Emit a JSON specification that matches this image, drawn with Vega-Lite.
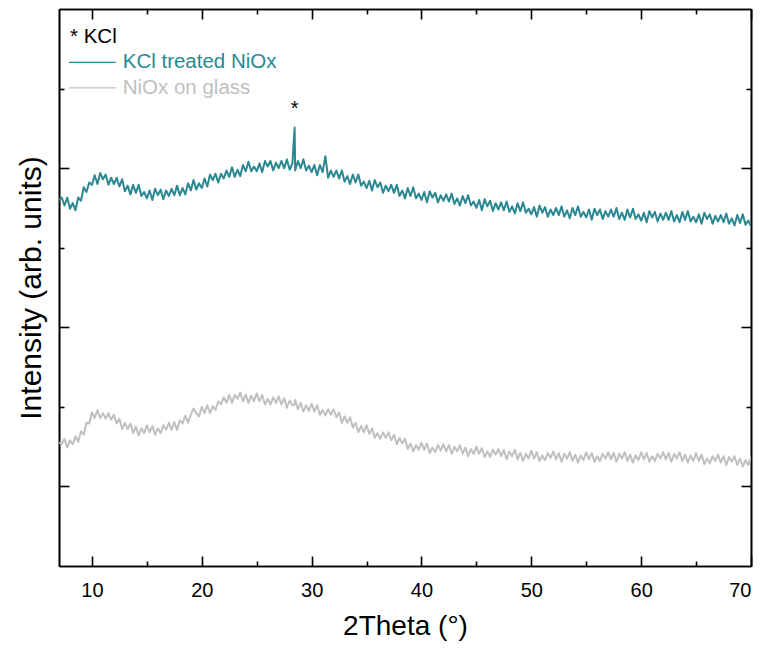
{
"$schema":"https://vega.github.io/schema/vega-lite/v6.json",
"width":692,"height":557,
"autosize":{"type":"none"},
"padding":{"left":59,"top":9,"right":18,"bottom":86},
"background":"white",
"config":{"view":{"stroke":null},"font":"Liberation Sans",
 "axis":{"grid":false,"domainColor":"black","domainWidth":1.6,"tickColor":"black","tickWidth":1.6,"labelFont":"Liberation Sans","titleFont":"Liberation Sans","labelColor":"black","titleColor":"black","titleFontWeight":"normal"}},
"datasets":{
"xrd":[
{"t":7.0,"a":460,"b":155},{"t":7.25,"a":463,"b":153},{"t":7.5,"a":453,"b":160},{"t":7.75,"a":463,"b":149},{"t":8.0,"a":449,"b":158},{"t":8.25,"a":456,"b":153},{"t":8.5,"a":447,"b":163},{"t":8.75,"a":463,"b":156},{"t":9.0,"a":459,"b":169},{"t":9.25,"a":476,"b":165},{"t":9.5,"a":470,"b":180},{"t":9.75,"a":482,"b":179},{"t":10.0,"a":479,"b":193},{"t":10.25,"a":491,"b":186},{"t":10.5,"a":480,"b":196},{"t":10.75,"a":494,"b":186},{"t":11.0,"a":486,"b":192},{"t":11.25,"a":492,"b":185},{"t":11.5,"a":479,"b":192},{"t":11.75,"a":488,"b":184},{"t":12.0,"a":480,"b":190},{"t":12.25,"a":488,"b":179},{"t":12.5,"a":477,"b":185},{"t":12.75,"a":486,"b":172},{"t":13.0,"a":471,"b":180},{"t":13.25,"a":478,"b":172},{"t":13.5,"a":467,"b":179},{"t":13.75,"a":479,"b":167},{"t":14.0,"a":469,"b":175},{"t":14.25,"a":479,"b":164},{"t":14.5,"a":465,"b":173},{"t":14.75,"a":470,"b":167},{"t":15.0,"a":462,"b":177},{"t":15.25,"a":472,"b":168},{"t":15.5,"a":460,"b":176},{"t":15.75,"a":474,"b":165},{"t":16.0,"a":466,"b":173},{"t":16.25,"a":473,"b":167},{"t":16.5,"a":461,"b":177},{"t":16.75,"a":472,"b":171},{"t":17.0,"a":465,"b":180},{"t":17.25,"a":474,"b":171},{"t":17.5,"a":466,"b":181},{"t":17.75,"a":478,"b":171},{"t":18.0,"a":466,"b":183},{"t":18.25,"a":475,"b":179},{"t":18.5,"a":467,"b":189},{"t":18.75,"a":481,"b":180},{"t":19.0,"a":472,"b":190},{"t":19.25,"a":485,"b":198},{"t":19.5,"a":473,"b":192},{"t":19.75,"a":481,"b":188},{"t":20.0,"a":475,"b":200},{"t":20.25,"a":487,"b":192},{"t":20.5,"a":477,"b":202},{"t":20.75,"a":492,"b":192},{"t":21.0,"a":485,"b":201},{"t":21.25,"a":493,"b":196},{"t":21.5,"a":482,"b":207},{"t":21.75,"a":493,"b":203},{"t":22.0,"a":487,"b":212},{"t":22.25,"a":497,"b":205},{"t":22.5,"a":489,"b":215},{"t":22.75,"a":501,"b":205},{"t":23.0,"a":489,"b":215},{"t":23.25,"a":498,"b":210},{"t":23.5,"a":490,"b":218},{"t":23.75,"a":504,"b":207},{"t":24.0,"a":496,"b":215},{"t":24.25,"a":508,"b":205},{"t":24.5,"a":496,"b":214},{"t":24.75,"a":502,"b":207},{"t":25.0,"a":496,"b":217},{"t":25.25,"a":506,"b":207},{"t":25.5,"a":495,"b":215},{"t":25.75,"a":509,"b":203},{"t":26.0,"a":502,"b":210},{"t":26.25,"a":509,"b":203},{"t":26.5,"a":497,"b":212},{"t":26.75,"a":507,"b":205},{"t":27.0,"a":500,"b":213},{"t":27.25,"a":509,"b":203},{"t":27.5,"a":500,"b":211},{"t":27.75,"a":511,"b":199},{"t":28.0,"a":498,"b":208},{"t":28.25,"a":506,"b":202},{"t":28.45,"a":551,"b":203},{"t":28.5,"a":497,"b":209},{"t":28.75,"a":509,"b":197},{"t":29.0,"a":500,"b":205},{"t":29.25,"a":511,"b":194},{"t":29.5,"a":497,"b":202},{"t":29.75,"a":503,"b":195},{"t":30.0,"a":495,"b":204},{"t":30.25,"a":504,"b":194},{"t":30.5,"a":491,"b":202},{"t":30.75,"a":504,"b":190},{"t":31.0,"a":495,"b":196},{"t":31.25,"a":515,"b":189},{"t":31.5,"a":488,"b":197},{"t":31.75,"a":497,"b":190},{"t":32.0,"a":489,"b":197},{"t":32.25,"a":497,"b":187},{"t":32.5,"a":487,"b":193},{"t":32.75,"a":497,"b":180},{"t":33.0,"a":483,"b":188},{"t":33.25,"a":490,"b":180},{"t":33.5,"a":480,"b":187},{"t":33.75,"a":492,"b":174},{"t":34.0,"a":482,"b":180},{"t":34.25,"a":492,"b":168},{"t":34.5,"a":478,"b":176},{"t":34.75,"a":483,"b":168},{"t":35.0,"a":475,"b":177},{"t":35.25,"a":484,"b":166},{"t":35.5,"a":472,"b":173},{"t":35.75,"a":485,"b":161},{"t":36.0,"a":476,"b":167},{"t":36.25,"a":482,"b":160},{"t":36.5,"a":469,"b":168},{"t":36.75,"a":478,"b":161},{"t":37.0,"a":471,"b":168},{"t":37.25,"a":479,"b":158},{"t":37.5,"a":469,"b":165},{"t":37.75,"a":479,"b":153},{"t":38.0,"a":465,"b":161},{"t":38.25,"a":472,"b":154},{"t":38.5,"a":462,"b":160},{"t":38.75,"a":475,"b":147},{"t":39.0,"a":465,"b":154},{"t":39.25,"a":476,"b":144},{"t":39.5,"a":462,"b":152},{"t":39.75,"a":468,"b":146},{"t":40.0,"a":460,"b":155},{"t":40.25,"a":470,"b":146},{"t":40.5,"a":457,"b":154},{"t":40.75,"a":471,"b":142},{"t":41.0,"a":463,"b":149},{"t":41.25,"a":469,"b":143},{"t":41.5,"a":457,"b":152},{"t":41.75,"a":466,"b":145},{"t":42.0,"a":459,"b":153},{"t":42.25,"a":467,"b":144},{"t":42.5,"a":458,"b":152},{"t":42.75,"a":468,"b":141},{"t":43.0,"a":455,"b":150},{"t":43.25,"a":462,"b":144},{"t":43.5,"a":453,"b":152},{"t":43.75,"a":465,"b":141},{"t":44.0,"a":456,"b":149},{"t":44.25,"a":466,"b":138},{"t":44.5,"a":453,"b":147},{"t":44.75,"a":458,"b":141},{"t":45.0,"a":450,"b":150},{"t":45.25,"a":460,"b":141},{"t":45.5,"a":447,"b":148},{"t":45.75,"a":461,"b":137},{"t":46.0,"a":452,"b":144},{"t":46.25,"a":459,"b":137},{"t":46.5,"a":446,"b":146},{"t":46.75,"a":456,"b":140},{"t":47.0,"a":448,"b":147},{"t":47.25,"a":457,"b":138},{"t":47.5,"a":447,"b":146},{"t":47.75,"a":458,"b":134},{"t":48.0,"a":445,"b":144},{"t":48.25,"a":452,"b":138},{"t":48.5,"a":443,"b":146},{"t":48.75,"a":456,"b":134},{"t":49.0,"a":446,"b":142},{"t":49.25,"a":457,"b":132},{"t":49.5,"a":444,"b":141},{"t":49.75,"a":449,"b":135},{"t":50.0,"a":442,"b":145},{"t":50.25,"a":451,"b":135},{"t":50.5,"a":439,"b":143},{"t":50.75,"a":453,"b":132},{"t":51.0,"a":444,"b":139},{"t":51.25,"a":451,"b":133},{"t":51.5,"a":439,"b":142},{"t":51.75,"a":448,"b":136},{"t":52.0,"a":441,"b":144},{"t":52.25,"a":450,"b":134},{"t":52.5,"a":441,"b":142},{"t":52.75,"a":452,"b":131},{"t":53.0,"a":439,"b":141},{"t":53.25,"a":447,"b":135},{"t":53.5,"a":437,"b":143},{"t":53.75,"a":450,"b":132},{"t":54.0,"a":441,"b":140},{"t":54.25,"a":452,"b":130},{"t":54.5,"a":439,"b":139},{"t":54.75,"a":445,"b":133},{"t":55.0,"a":438,"b":143},{"t":55.25,"a":448,"b":134},{"t":55.5,"a":435,"b":142},{"t":55.75,"a":449,"b":131},{"t":56.0,"a":441,"b":138},{"t":56.25,"a":448,"b":132},{"t":56.5,"a":436,"b":141},{"t":56.75,"a":446,"b":135},{"t":57.0,"a":439,"b":143},{"t":57.25,"a":448,"b":134},{"t":57.5,"a":439,"b":142},{"t":57.75,"a":450,"b":131},{"t":58.0,"a":436,"b":141},{"t":58.25,"a":444,"b":135},{"t":58.5,"a":435,"b":143},{"t":58.75,"a":448,"b":132},{"t":59.0,"a":438,"b":140},{"t":59.25,"a":449,"b":130},{"t":59.5,"a":436,"b":139},{"t":59.75,"a":442,"b":133},{"t":60.0,"a":434,"b":143},{"t":60.25,"a":444,"b":134},{"t":60.5,"a":432,"b":142},{"t":60.75,"a":446,"b":131},{"t":61.0,"a":438,"b":138},{"t":61.25,"a":445,"b":132},{"t":61.5,"a":433,"b":141},{"t":61.75,"a":443,"b":135},{"t":62.0,"a":435,"b":143},{"t":62.25,"a":444,"b":134},{"t":62.5,"a":435,"b":142},{"t":62.75,"a":446,"b":131},{"t":63.0,"a":433,"b":141},{"t":63.25,"a":441,"b":135},{"t":63.5,"a":432,"b":143},{"t":63.75,"a":445,"b":132},{"t":64.0,"a":435,"b":140},{"t":64.25,"a":446,"b":130},{"t":64.5,"a":433,"b":139},{"t":64.75,"a":439,"b":132},{"t":65.0,"a":432,"b":142},{"t":65.25,"a":442,"b":132},{"t":65.5,"a":430,"b":140},{"t":65.75,"a":444,"b":128},{"t":66.0,"a":436,"b":135},{"t":66.25,"a":442,"b":129},{"t":66.5,"a":430,"b":138},{"t":66.75,"a":440,"b":132},{"t":67.0,"a":433,"b":140},{"t":67.25,"a":441,"b":130},{"t":67.5,"a":432,"b":138},{"t":67.75,"a":443,"b":127},{"t":68.0,"a":430,"b":137},{"t":68.25,"a":437,"b":131},{"t":68.5,"a":428,"b":138},{"t":68.75,"a":441,"b":127},{"t":69.0,"a":431,"b":135},{"t":69.25,"a":442,"b":125},{"t":69.5,"a":429,"b":133},{"t":69.75,"a":434,"b":127},{"t":70.0,"a":427,"b":137},{"t":70.25,"a":437,"b":127},{"t":70.5,"a":425,"b":135}
],
"legline":[{"x1":7.9,"x2":12.2,"v":633,"s":"KCl treated NiOx"},{"x1":7.9,"x2":12.2,"v":601,"s":"NiOx on glass"}],
"legtext":[{"tx":8.0,"v":665,"s":"* KCl"},{"tx":12.8,"v":633,"s":"KCl treated NiOx"},{"tx":12.8,"v":601,"s":"NiOx on glass"}],
"star":[{"t":28.45,"v":574,"s":"*"}]
},
"layer":[
{"data":{"name":"xrd"},
 "mark":{"type":"line","color":"#2A8893","strokeWidth":2,"strokeJoin":"round","clip":true},
 "encoding":{
  "x":{"field":"t","type":"quantitative","scale":{"domain":[7,70],"nice":false,"zero":false},
   "axis":{"orient":"bottom","values":[10,20,30,40,50,60,70],"tickSize":-10,"labelFontSize":20,"labelPadding":24,"title":"2Theta (°)","titleFontSize":28,"titlePadding":12}},
  "y":{"field":"a","type":"quantitative","scale":{"domain":[0,700],"nice":false,"zero":false},
   "axis":{"orient":"left","values":[100,300,500],"tickSize":-10,"labels":false,"title":"Intensity (arb. units)","titleFontSize":30,"titlePadding":12}}}},
{"data":{"name":"xrd"},
 "mark":{"type":"line","color":"#C0C0C0","strokeWidth":2,"strokeJoin":"round","clip":true},
 "encoding":{
  "x":{"field":"t","type":"quantitative","scale":{"domain":[7,70],"nice":false,"zero":false},
   "axis":{"orient":"top","values":[10,20,30,40,50,60,70],"tickSize":-10,"labels":false,"title":null}},
  "y":{"field":"b","type":"quantitative","scale":{"domain":[0,700],"nice":false,"zero":false},
   "axis":{"orient":"right","values":[100,300,500],"tickSize":-10,"labels":false,"title":null}}}},
{"data":{"name":"star"},
 "mark":{"type":"text","fontSize":20,"align":"center","baseline":"middle","color":"black"},
 "encoding":{
  "x":{"field":"t","type":"quantitative","scale":{"domain":[7,70],"nice":false,"zero":false},
   "axis":{"orient":"bottom","values":[15,25,35,45,55,65],"tickSize":-5,"labels":false,"title":null}},
  "y":{"field":"v","type":"quantitative","scale":{"domain":[0,700],"nice":false,"zero":false},
   "axis":{"orient":"left","values":[200,400,600],"tickSize":-5,"labels":false,"title":null}},
  "text":{"field":"s"}}},
{"data":{"name":"legline"},
 "mark":{"type":"rule","strokeWidth":1.2},
 "encoding":{
  "x":{"field":"x1","type":"quantitative","scale":{"domain":[7,70],"nice":false,"zero":false},
   "axis":{"orient":"top","values":[15,25,35,45,55,65],"tickSize":-5,"labels":false,"title":null}},
  "x2":{"field":"x2"},
  "y":{"field":"v","type":"quantitative","scale":{"domain":[0,700],"nice":false,"zero":false},
   "axis":{"orient":"right","values":[200,400,600],"tickSize":-5,"labels":false,"title":null}},
  "color":{"field":"s","type":"nominal","scale":{"domain":["* KCl","KCl treated NiOx","NiOx on glass"],"range":["black","#2A8893","#C0C0C0"]},"legend":null}}},
{"data":{"name":"legtext"},
 "mark":{"type":"text","fontSize":20.5,"align":"left","baseline":"middle"},
 "encoding":{
  "x":{"field":"tx","type":"quantitative","scale":{"domain":[7,70],"nice":false,"zero":false},"axis":null},
  "y":{"field":"v","type":"quantitative","scale":{"domain":[0,700],"nice":false,"zero":false},"axis":null},
  "text":{"field":"s"},
  "color":{"field":"s","type":"nominal","scale":{"domain":["* KCl","KCl treated NiOx","NiOx on glass"],"range":["black","#2A8893","#C0C0C0"]},"legend":null}}}
],
"resolve":{"axis":{"x":"independent","y":"independent"}}
}
